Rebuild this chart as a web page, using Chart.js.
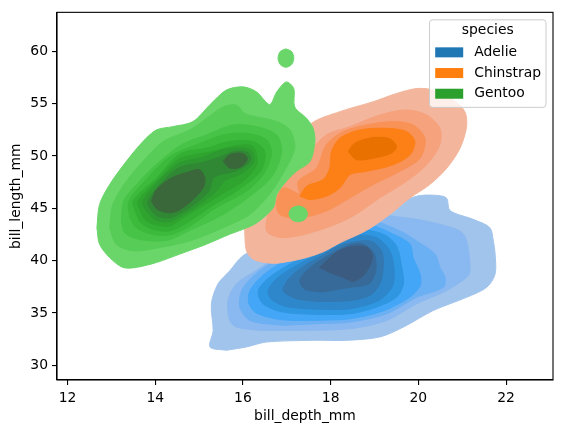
<!DOCTYPE html>
<html>
<head>
<meta charset="utf-8">
<title>bill_depth_mm vs bill_length_mm KDE</title>
<script src="https://cdn.jsdelivr.net/npm/chart.js@4.4.1/dist/chart.umd.min.js"></script>
<style>
  html, body { margin: 0; padding: 0; background: #fff; }
  #wrap { width: 563px; height: 433px; }
</style>
</head>
<body>
<div id="wrap"><canvas id="c" width="563" height="433"></canvas></div>
<script>
// --- chart values ---
const species = ["Adelie", "Chinstrap", "Gentoo"];
const speciesColors = ["#1f77b4", "#ff7f0e", "#2ca02c"];
const xTicks = [12, 14, 16, 18, 20, 22];
const yTicks = [30, 35, 40, 45, 50, 55, 60];
const xRange = [11.76, 23.07];
const yRange = [28.6, 63.73];

// density level fills, outermost first (bill_depth_mm, bill_length_mm)
const adelieColors = ["#a1c4ec", "#8ab8f0", "#6cb0f4", "#44a6f6", "#2f97e2", "#2e87cb", "#3378b0", "#376a98", "#3c5b80"];
const adelie1 = [[15.62,31.44],[15.25,31.75],[15.32,33.34],[15.28,35.87],[15.43,37.78],[15.70,39.04],[16.0,40.47],[16.5,41.5],[17.4,42.8],[18.3,44.2],[19.3,45.2],[19.96,46.16],[20.34,46.26],[20.64,46.0],[20.72,44.8],[21.25,43.95],[21.63,43.15],[21.71,41.89],[21.75,40.63],[21.75,38.73],[21.56,37.46],[21.10,36.5],[20.34,35.24],[19.66,33.66],[19.12,32.71],[18.36,32.39],[17.60,32.39],[16.54,32.23],[16.08,31.76]];
const adelie2 = [[16.38,33.34],[15.85,33.66],[15.70,34.3],[15.66,36.19],[15.85,37.78],[16.3,39.04],[16.6,39.9],[17.3,41.5],[18.4,43.6],[19.1,44.6],[19.35,44.3],[19.96,43.95],[20.49,43.47],[20.95,42.84],[21.1,41.89],[21.18,39.04],[21.10,38.4],[20.64,37.14],[19.96,35.88],[19.28,34.29],[18.44,33.5],[17.30,33.34]];
const adelie3 = [[16.92,33.82],[16.16,34.29],[15.93,35.56],[15.97,37.14],[16.2,38.4],[16.5,39.4],[16.9,40.4],[17.7,41.9],[18.4,43.3],[19.0,43.7],[19.58,42.84],[19.96,41.89],[20.38,40.63],[20.49,39.36],[20.61,38.41],[20.57,37.46],[19.96,36.5],[19.28,34.93],[18.44,34.13],[17.68,33.98]];
const adelie4 = [[17.7,34.3],[16.9,34.35],[16.3,35.0],[16.13,36.0],[16.16,37.14],[16.4,38.4],[16.75,39.5],[17.2,40.6],[17.9,42.0],[18.5,43.0],[18.89,43.4],[19.43,42.53],[19.81,41.58],[19.88,40.3],[20.04,38.73],[20.04,37.6],[19.8,36.5],[19.2,35.2],[18.44,34.45]];
const adelie5 = [[17.7,34.85],[16.9,35.1],[16.45,35.9],[16.35,37.14],[16.6,38.4],[17.0,39.5],[17.5,40.6],[18.1,41.8],[18.67,42.9],[19.2,42.53],[19.5,41.42],[19.62,39.36],[19.66,37.78],[19.5,36.5],[19.0,35.5],[18.44,34.93]];
const adelie6 = [[17.7,35.35],[17.0,35.6],[16.65,36.3],[16.57,37.14],[16.8,38.4],[17.2,39.5],[17.7,40.6],[18.2,41.6],[18.5,42.4],[19.05,42.2],[19.35,40.94],[19.45,39.04],[19.4,37.46],[19.1,36.2],[18.44,35.4]];
const adelie7 = [[17.7,36.1],[17.2,36.4],[16.92,37.14],[17.05,38.3],[17.4,39.5],[17.85,40.6],[18.25,41.5],[18.89,41.89],[19.16,40.94],[19.2,39.36],[19.12,37.78],[18.9,36.7],[18.44,36.19]];
const adelie8 = [[17.8,37.0],[17.4,37.3],[17.3,38.2],[17.55,39.4],[17.95,40.5],[18.4,41.45],[18.7,41.62],[18.98,40.78],[19.03,39.04],[18.87,37.8],[18.44,37.46]];
const adelie9 = [[17.75,39.36],[18.13,40.78],[18.44,41.32],[18.82,41.3],[18.95,40.5],[18.9,39.6],[18.74,38.57],[18.51,38.03],[18.29,38.4],[17.98,38.88]];

const chinstrapColors = ["#f3b59c", "#f6a27d", "#f89257", "#fd8017", "#e87100"];
const chinstrap1 = [[16.04,42.84],[16.08,40.94],[16.25,40.1],[16.69,39.75],[17.07,39.95],[17.45,40.3],[17.83,40.85],[18.21,41.7],[18.82,42.9],[19.35,44.42],[19.81,46.0],[20.26,47.27],[20.65,48.85],[20.95,50.75],[21.1,52.81],[21.06,54.24],[20.8,55.35],[20.34,56.3],[19.96,56.45],[19.5,55.97],[18.97,55.19],[18.21,54.24],[17.56,53.12],[17.2,51.0],[16.8,48.5],[16.3,45.5],[16.08,44.0]];
const chinstrap2 = [[16.99,48.22],[17.45,50.12],[17.9,52.02],[18.44,52.81],[19.12,53.92],[19.73,54.4],[20.19,53.92],[20.49,52.65],[20.49,51.07],[20.19,49.17],[19.73,47.59],[19.12,46.0],[18.44,44.1],[17.68,42.84],[16.92,42.2],[16.54,42.84],[16.61,45.05],[16.77,46.95]];
const chinstrap3 = [[17.30,46.32],[17.26,47.59],[17.68,48.85],[17.9,51.07],[18.29,52.34],[18.82,52.97],[19.43,53.29],[19.88,52.97],[20.15,51.7],[20.04,49.8],[19.58,48.54],[18.97,47.27],[18.44,46.0],[17.9,44.74],[17.30,44.1],[16.84,44.42],[16.77,45.69],[16.92,46.95]];
const chinstrap4 = [[17.30,46.16],[17.45,47.11],[17.83,47.75],[17.98,48.85],[18.02,50.44],[18.21,51.7],[18.67,52.5],[19.28,52.65],[19.73,52.34],[19.92,51.39],[19.81,50.12],[19.43,49.17],[18.82,48.54],[18.44,48.22],[18.21,46.95],[17.9,46.16],[17.53,45.85]];
const chinstrap5 = [[18.4,50.44],[18.55,51.23],[18.97,51.77],[19.35,51.64],[19.5,50.91],[19.39,50.28],[18.97,49.8],[18.59,49.65]];

const gentooColors = ["#6ad66a", "#57cd57", "#47c447", "#3cba3c", "#33af33", "#2fa42f", "#2e9831", "#308834", "#3a683b"];
const gentoo1 = [[12.67,43.15],[12.73,45.37],[12.96,47.27],[13.34,49.49],[13.72,51.39],[14.03,52.5],[14.40,52.81],[14.86,53.29],[15.24,54.87],[15.62,56.3],[16.00,56.61],[16.31,56.13],[16.61,54.93],[16.77,56.13],[16.99,57.08],[17.16,56.45],[17.18,54.7],[17.45,53.6],[17.6,52.65],[17.64,51.39],[17.53,49.49],[17.22,48.54],[16.99,47.59],[16.77,46.32],[16.69,45.05],[16.31,43.6],[16.0,43.0],[15.70,42.53],[15.17,41.58],[14.56,40.63],[14.03,39.83],[13.57,39.36],[13.26,39.36],[12.96,40.3],[12.73,41.58]];
const gentooTopIsland = [[16.98,60.24],[17.11,59.98],[17.16,59.36],[17.11,58.74],[16.98,58.48],[16.85,58.74],[16.80,59.36],[16.85,59.98]];
const gentooLowIsland = [[17.26,45.24],[17.41,45.02],[17.47,44.48],[17.41,43.94],[17.26,43.72],[17.11,43.94],[17.05,44.48],[17.11,45.02]];
const gentoo2 = [[12.96,43.15],[13.03,45.37],[13.34,47.59],[13.72,49.49],[14.18,51.39],[14.79,52.5],[15.17,53.6],[15.55,54.7],[15.85,54.87],[16.04,54.07],[16.31,53.76],[16.77,53.29],[17.07,52.5],[17.18,50.75],[16.9,48.22],[16.6,46.32],[16.16,44.42],[15.55,43.15],[14.79,41.89],[14.03,41.2],[13.49,40.94],[13.11,41.58]];
const gentoo3 = [[13.23,43.79],[13.28,45.69],[13.64,47.59],[14.10,49.49],[14.63,51.15],[15.17,52.02],[15.77,52.97],[16.31,52.81],[16.77,52.02],[16.88,50.44],[16.69,48.22],[16.31,46.64],[15.55,44.42],[14.79,42.9],[14.33,42.0],[13.95,41.9],[13.57,42.1],[13.30,42.68]];
const gentoo4 = [[13.42,44.1],[13.40,45.69],[13.83,47.9],[14.33,49.95],[14.94,51.07],[15.55,52.02],[16.08,52.17],[16.54,51.55],[16.65,50.12],[16.46,48.22],[16.08,46.64],[15.39,45.05],[14.79,43.3],[14.33,42.46],[13.95,42.5],[13.57,43.15]];
const gentoo5 = [[13.57,44.42],[13.50,45.69],[14.03,47.9],[14.56,50.18],[15.17,50.75],[15.70,51.39],[16.23,51.39],[16.5,50.4],[16.4,48.54],[15.85,46.64],[15.32,45.3],[14.79,43.8],[14.33,42.84],[13.95,43.0],[13.68,43.6]];
const gentoo6 = [[13.68,44.6],[13.61,45.69],[14.10,47.9],[14.56,49.74],[15.32,50.44],[15.85,51.0],[16.23,50.9],[16.32,49.2],[16.0,47.59],[15.62,46.64],[15.1,45.3],[14.6,44.0],[14.33,43.32],[13.95,43.5],[13.75,44.0]];
const gentoo7 = [[13.78,44.8],[13.72,45.69],[14.15,47.9],[14.56,49.33],[15.1,49.9],[15.5,50.55],[15.93,50.8],[16.2,50.5],[16.24,49.4],[15.95,48.3],[15.6,47.7],[15.39,46.64],[14.95,45.2],[14.6,44.3],[14.33,43.72],[14.0,43.9]];
const gentoo8 = [[13.87,45.0],[13.83,45.69],[14.2,47.7],[14.56,48.92],[15.1,49.4],[15.5,49.95],[15.85,50.5],[16.12,50.3],[16.17,49.5],[15.85,48.6],[15.35,48.0],[15.22,46.64],[14.9,45.4],[14.6,44.6],[14.33,44.1],[14.05,44.25]];
const gentoo9 = [[13.91,45.69],[14.03,46.8],[14.37,47.9],[14.75,48.47],[15.01,48.7],[15.13,47.9],[15.1,47.0],[14.85,45.8],[14.55,44.85],[14.33,44.58],[14.05,44.9]];
const gentoo9b = [[15.55,49.5],[15.7,50.15],[16.0,50.25],[16.1,49.7],[15.95,48.95],[15.7,48.85]];

// --- drawing sequence: first entry is painted first (bottom) ---
const layers = [
  [adelie1, adelieColors[0]], [adelie2, adelieColors[1]], [adelie3, adelieColors[2]],
  [adelie4, adelieColors[3]], [adelie5, adelieColors[4]], [adelie6, adelieColors[5]],
  [adelie7, adelieColors[6]], [adelie8, adelieColors[7]], [adelie9, adelieColors[8]],
  [chinstrap1, chinstrapColors[0]], [chinstrap2, chinstrapColors[1]], [chinstrap3, chinstrapColors[2]],
  [chinstrap4, chinstrapColors[3]], [chinstrap5, chinstrapColors[4]],
  [gentoo1, gentooColors[0]], [gentooTopIsland, gentooColors[0]], [gentooLowIsland, gentooColors[0]],
  [gentoo2, gentooColors[1]], [gentoo3, gentooColors[2]], [gentoo4, gentooColors[3]],
  [gentoo5, gentooColors[4]], [gentoo6, gentooColors[5]], [gentoo7, gentooColors[6]],
  [gentoo8, gentooColors[7]], [gentoo9, gentooColors[8]], [gentoo9b, gentooColors[8]]
];

const FONT = "'DejaVu Sans', 'Liberation Sans', sans-serif";
const FSIZE = 13.9;

// Chart.js paints lower `order` on top, so count down
const datasets = layers.map(([pts, color], i) => ({
  data: pts.concat([pts[0]]).map(p => ({ x: p[0], y: p[1] })),
  showLine: true,
  fill: "shape",
  backgroundColor: color,
  borderColor: color,
  borderWidth: 1,
  pointRadius: 0,
  tension: 0.3,
  order: layers.length - i
}));

// top/right spines (matplotlib style box)
const frame = {
  id: "frame",
  afterDatasetsDraw(chart) {
    const { ctx, chartArea: a } = chart;
    ctx.save();
    ctx.strokeStyle = "#000";
    ctx.lineWidth = 1.1;
    ctx.strokeRect(a.left, a.top, a.right - a.left, a.bottom - a.top);
    ctx.restore();
  }
};

// legend box with title, drawn inside the plot (upper right)
const speciesLegend = {
  id: "speciesLegend",
  afterDraw(chart) {
    const { ctx, chartArea: a } = chart;
    const w = 116.5, h = 87.5;
    const x0 = a.right - 7 - w, y0 = a.top + 7.5;
    ctx.save();
    ctx.beginPath();
    ctx.roundRect(x0, y0, w, h, 3);
    ctx.fillStyle = "rgba(255,255,255,0.8)";
    ctx.fill();
    ctx.strokeStyle = "#cccccc";
    ctx.lineWidth = 1;
    ctx.stroke();
    ctx.fillStyle = "#000";
    ctx.font = FSIZE + "px " + FONT;
    ctx.textBaseline = "middle";
    ctx.textAlign = "center";
    ctx.fillText("species", x0 + w / 2, y0 + 10.5);
    ctx.textAlign = "left";
    species.forEach((name, i) => {
      const cy = y0 + 32.5 + i * 20.7;
      ctx.fillStyle = speciesColors[i];
      ctx.fillRect(x0 + 5.7, cy - 5, 28, 10);
      ctx.fillStyle = "#000";
      ctx.fillText(name, x0 + 44.7, cy);
    });
    ctx.restore();
  }
};

const axisCommon = {
  type: "linear",
  grid: { display: true, drawOnChartArea: false, drawTicks: true, tickLength: 5, color: "#000", lineWidth: 1.1 },
  border: { display: true, color: "#000", width: 1.1 },
  ticks: { color: "#000", padding: 4, font: { family: FONT, size: FSIZE } }
};

new Chart(document.getElementById("c"), {
  type: "scatter",
  data: { datasets },
  options: {
    responsive: false,
    animation: false,
    devicePixelRatio: 1,
    events: [],
    layout: { padding: { left: 0, top: 10, right: 10, bottom: 0 } },
    plugins: { legend: { display: false }, tooltip: { enabled: false } },
    scales: {
      x: Object.assign({}, axisCommon, {
        min: xRange[0], max: xRange[1],
        ticks: { color: "#000", padding: 5, font: { family: FONT, size: FSIZE } },
        afterBuildTicks: s => { s.ticks = xTicks.map(v => ({ value: v })); },
        afterFit: s => { s.height = 53; },
        title: { display: true, text: "bill_depth_mm", color: "#000", padding: 8, font: { family: FONT, size: FSIZE } }
      }),
      y: Object.assign({}, axisCommon, {
        min: yRange[0], max: yRange[1],
        afterBuildTicks: s => { s.ticks = yTicks.map(v => ({ value: v })); },
        afterFit: s => { s.width = 57; },
        title: { display: true, text: "bill_length_mm", color: "#000", padding: 8, font: { family: FONT, size: FSIZE } }
      })
    }
  },
  plugins: [frame, speciesLegend]
});
</script>
</body>
</html>
